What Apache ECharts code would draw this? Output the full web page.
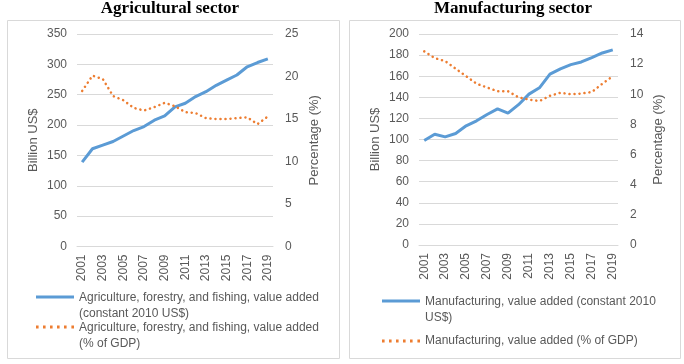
<!DOCTYPE html>
<html><head><meta charset="utf-8">
<script src="https://cdn.jsdelivr.net/npm/echarts@6/dist/echarts.min.js"></script>
<style>html,body{margin:0;padding:0;background:#fff}#c{width:684px;height:364px}</style>
</head><body><div id="c"></div>
<script>
const years = ['2001','2002','2003','2004','2005','2006','2007','2008','2009','2010','2011','2012','2013','2014','2015','2016','2017','2018','2019'];
const agriValue = [139,161,167,173,182,191,197.5,208,215,230,236,247,255,265.5,274,282.5,296,303,309];
const agriPct = [18.3,20.1,19.7,17.7,17.2,16.3,16.0,16.4,16.9,16.5,15.8,15.7,15.1,15.0,15.0,15.1,15.2,14.4,15.3];
const manuValue = [99,105,102.5,105.7,113,117.7,123.7,129,125,133,143,149,162,167,171,173.5,177.6,182,185];
const manuPct = [12.85,12.4,12.2,11.7,11.2,10.7,10.45,10.2,10.2,9.8,9.65,9.55,9.9,10.1,10.0,10.05,10.15,10.7,11.2];
const titles = ['Agricultural sector','Manufacturing sector'];
const names = ['Agriculture, forestry, and fishing, value added\n(constant 2010 US$)','Agriculture, forestry, and fishing, value added\n(% of GDP)','Manufacturing, value added (constant 2010\nUS$)','Manufacturing, value added (% of GDP)'];

const FONT = '"Liberation Sans", Arial, sans-serif';
const GREY = '#595959';
const BLUE = '#5B9BD5', ORANGE = '#ED7D31';

function yAx(grid, pos, min, max, interval, name, gap){
  return {type:'value', gridIndex:grid, position:pos, min:min, max:max, interval:interval,
    name:name, nameLocation:'middle', nameRotate:90, nameGap:gap,
    nameTextStyle:{color:GREY, fontSize:13, fontFamily:FONT},
    axisLine:{show:false}, axisTick:{show:false},
    axisLabel:{color:GREY, fontSize:12, fontFamily:FONT, margin: pos==='left'?10:12},
    splitLine:{show: pos==='left', lineStyle:{color:'#D9D9D9', width:1}}};
}
function xAx(grid){
  return {type:'category', gridIndex:grid, data:years, boundaryGap:true,
    axisLine:{lineStyle:{color:'#D9D9D9'}}, axisTick:{show:false},
    axisLabel:{color:GREY, fontSize:12, fontFamily:FONT, rotate:90, interval:1, margin:8}};
}
const dotted = {color:ORANGE, width:2.5, type:[0.1,4.9], cap:'round'};
// icons for two-line legend items: mark at the top, invisible anchor at the bottom
const anchor = ' M0,19.99h0.01v0.01h-0.01z';
const solidIconTall = 'path://M0,0h38v3h-38z' + anchor;
const dotsPath = 'M0,0h2.6v3h-2.6z M7,0h2.6v3h-2.6z M14,0h2.6v3h-2.6z M21,0h2.6v3h-2.6z M28,0h2.6v3h-2.6z M35.4,0h2.6v3h-2.6z';
const dotIconTall = 'path://' + dotsPath + anchor;
const dotIcon = 'path://' + dotsPath;

function leg(left, top, name, icon, h){
  return {orient:'vertical', left:left, top:top, padding:0, itemWidth:38, itemHeight:h,
    selectedMode:false,
    textStyle:{color:GREY, fontSize:12, fontFamily:FONT, lineHeight:16},
    data:[{name:name, icon:icon}]};
}

const option = {
  animation:false,
  title:[
    {text:titles[0], left:170, textAlign:'center', top:0, padding:0, textStyle:{fontFamily:'"Liberation Serif", "Times New Roman", serif', fontWeight:'bold', fontSize:17, color:'#000'}},
    {text:titles[1], left:513, textAlign:'center', top:0, padding:0, textStyle:{fontFamily:'"Liberation Serif", "Times New Roman", serif', fontWeight:'bold', fontSize:17, color:'#000'}}
  ],
  graphic:[
    {type:'rect', shape:{x:7.5, y:20.5, width:332, height:338}, style:{fill:'none', stroke:'#D9D9D9', lineWidth:1}, z:-1},
    {type:'rect', shape:{x:349.5, y:20.5, width:331, height:338}, style:{fill:'none', stroke:'#D9D9D9', lineWidth:1}, z:-1}
  ],
  grid:[
    {left:77, width:196, top:34, height:212.5},
    {left:419, width:199, top:34, height:211}
  ],
  xAxis:[xAx(0), xAx(1)],
  yAxis:[
    yAx(0,'left',0,350,50,'Billion US$',37),
    yAx(0,'right',0,25,5,'Percentage (%)',35),
    yAx(1,'left',0,200,20,'Billion US$',37),
    yAx(1,'right',0,14,2,'Percentage (%)',34)
  ],
  legend:[
    leg(36, 289.5, names[0], solidIconTall, 20),
    leg(36, 319.5, names[1], dotIconTall, 20),
    leg(382, 293.5, names[2], solidIconTall, 20),
    leg(382, 333, names[3], dotIcon, 3)
  ],
  series:[
    {name:names[0], type:'line', xAxisIndex:0, yAxisIndex:0, data:agriValue, symbol:'none', lineStyle:{color:BLUE, width:3}, itemStyle:{color:BLUE}},
    {name:names[1], type:'line', xAxisIndex:0, yAxisIndex:1, data:agriPct, symbol:'none', lineStyle:dotted, itemStyle:{color:ORANGE}},
    {name:names[2], type:'line', xAxisIndex:1, yAxisIndex:2, data:manuValue, symbol:'none', lineStyle:{color:BLUE, width:3}, itemStyle:{color:BLUE}},
    {name:names[3], type:'line', xAxisIndex:1, yAxisIndex:3, data:manuPct, symbol:'none', lineStyle:dotted, itemStyle:{color:ORANGE}}
  ]
};
const chart = echarts.init(document.getElementById('c'), null, {renderer:'canvas'});
chart.setOption(option);
</script></body></html>
